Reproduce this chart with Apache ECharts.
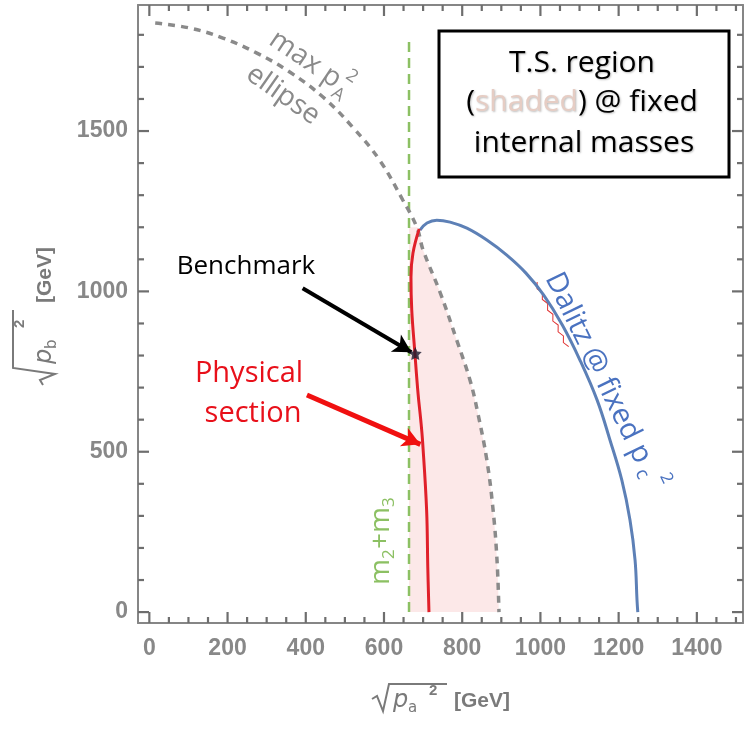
<!DOCTYPE html>
<html>
<head>
<meta charset="utf-8">
<title>T.S. region</title>
<script src="https://cdn.jsdelivr.net/npm/echarts@6/dist/echarts.min.js"></script>
<style>
  html, body { margin: 0; padding: 0; background: #fff; }
  #chart { width: 744px; height: 730px; }
</style>
</head>
<body>
<div id="chart"></div>
<script>
// tick labels
var xTicks = [0, 200, 400, 600, 800, 1000, 1200, 1400];
var yTicks = [0, 500, 1000, 1500];

// max p_A^2 ellipse (GeV)
var ellipseX = [15, 104, 188, 275, 359, 444, 520, 589, 648, 684, 700, 744, 786, 820, 840, 863, 879, 889, 894];
var ellipseY = [1837, 1821, 1790, 1743, 1684, 1606, 1512, 1409, 1285, 1200, 1129, 995, 848, 723, 620, 474, 318, 162, 0];

// physical section (red)
var physX = [690, 674, 669, 671, 679, 687, 694, 699, 709, 712, 715];
var physY = [1195, 1119, 1045, 942, 808, 683, 599, 527, 318, 140, 0];

// Dalitz @ fixed pc^2 (blue)
var dalitzX = [692, 710, 735, 769, 812, 863, 914, 963, 1008, 1056, 1101, 1145, 1178, 1208, 1229, 1242, 1247, 1249];
var dalitzY = [1191, 1213, 1222, 1216, 1197, 1160, 1113, 1057, 989, 895, 786, 661, 536, 412, 287, 162, 37, 0];

// m2+m3 threshold line
var m23 = 664;
var m23Top = 1784;
var shadeTop = 1200;

var benchmark = [680, 806];
var blackArrow = [[392, 1010], [670, 810]];
var redArrow = [[403, 677], [693, 523]];

function pairs(xs, ys) {
    var out = [];
    for (var i = 0; i < xs.length; i++) out.push([xs[i], ys[i]]);
    return out;
}

var xMinor = [], yMinor = [];
for (var v = 0; v <= 1500; v += 50) if (v % 200) xMinor.push(v);
for (var v = 0; v <= 1800; v += 100) if (v % 500) yMinor.push(v);

var XMIN = -29, XMAX = 1518, YMIN = -34, YMAX = 1893;
var grayAxis = '#868686';
var tickFont = { fontSize: 23, fontWeight: 'bold', color: '#888', fontFamily: 'Liberation Sans' };

function frameAxis(kind, pos, labels) {
    return {
        type: 'value', position: pos,
        min: kind == 'x' ? XMIN : YMIN, max: kind == 'x' ? XMAX : YMAX,
        axisLine: { show: true, onZero: false, lineStyle: { color: grayAxis, width: 2 } },
        axisTick: { show: false },
        axisLabel: labels ? Object.assign({ show: true, customValues: kind == 'x' ? xTicks : yTicks, margin: kind == 'x' ? 14 : 10,
            formatter: function (val) { return String(val); } }, tickFont) : { show: false },
        splitLine: { show: false }
    };
}

var sqrtName = function (sub, gap) {
    var c = '#7a7a7a';
    return [
        { type: 'polyline', shape: { points: [[0, 0], [5, -3], [11, 12], [17, -gap], [75, -gap]] },
          style: { stroke: c, lineWidth: 2, fill: null } },
        { type: 'text', x: 21, y: 2, style: { text: 'p', font: 'italic 24px "DejaVu Sans"', fill: c, textAlign: 'left', textVerticalAlign: 'middle' } },
        { type: 'text', x: 36, y: 9, style: { text: sub, font: '15px "DejaVu Sans"', fill: c, textAlign: 'left', textVerticalAlign: 'middle' } },
        { type: 'text', x: 57, y: -gap + 7, style: { text: '2', font: 'bold 15px "Liberation Sans"', fill: c, textAlign: 'left', textVerticalAlign: 'middle' } },
        { type: 'text', x: 82, y: 2, style: { text: '[GeV]', font: 'bold 21px "Liberation Sans"', fill: c, textAlign: 'left', textVerticalAlign: 'middle' } }
    ];
};

var shadeData = [[m23, shadeTop]].concat(pairs(ellipseX, ellipseY).filter(function (p) { return p[0] > m23 + 5; }));
var star = 'path://M0,-10 L2.9,-4 9.5,-3.1 4.7,1.5 5.9,8.1 0,5 -5.9,8.1 -4.7,1.5 -9.5,-3.1 -2.9,-4 Z';
var deg = Math.PI / 180;
var sans = '"Open Sans"';
var boxShadow = { textShadowColor: 'rgba(0,0,0,0.25)', textShadowBlur: 2, textShadowOffsetX: 1, textShadowOffsetY: 1 };

var chart = echarts.init(document.getElementById('chart'));
chart.setOption({
    animation: false,
    backgroundColor: '#fff',
    grid: { left: 138, top: 5, right: 1, bottom: 107, containLabel: false },
    xAxis: [frameAxis('x', 'bottom', true), frameAxis('x', 'top', false)],
    yAxis: [frameAxis('y', 'left', true), frameAxis('y', 'right', false)],
    series: [
        { name: 'shaded', type: 'line', data: shadeData, smooth: 0.3, symbol: 'none',
          lineStyle: { width: 0 }, areaStyle: { color: 'rgba(240,128,128,0.26)', origin: 0 }, z: 1, silent: true },
        { name: 'ellipse', type: 'line', data: pairs(ellipseX, ellipseY), smooth: 0.4, symbol: 'none',
          lineStyle: { color: '#8a8a8a', width: 3.5, type: [7, 6] }, z: 3 },
        { name: 'm2+m3', type: 'line', data: [[m23, 0], [m23, m23Top]], symbol: 'none',
          lineStyle: { color: '#8cc063', width: 2.5, type: [10, 6] }, z: 2 },
        { name: 'Dalitz', type: 'line', data: pairs(dalitzX, dalitzY), smooth: 0.4, symbol: 'none',
          lineStyle: { color: '#5d80b6', width: 3 }, z: 4 },
        { name: 'physical', type: 'line', data: pairs(physX, physY), smooth: 0.4, symbol: 'none',
          lineStyle: { color: '#e0202a', width: 3 }, z: 5 },
        { name: 'benchmark', type: 'scatter', data: [benchmark], symbol: star, symbolSize: 13,
          itemStyle: { color: '#1a1a2e' }, z: 6,
          markLine: {
              silent: true, symbol: ['none', 'arrow'], symbolSize: [15, 18], label: { show: false },
              data: [
                  [{ coord: blackArrow[0], lineStyle: { color: '#000', width: 4, type: 'solid' } }, { coord: blackArrow[1] }],
                  [{ coord: redArrow[0], lineStyle: { color: '#f01010', width: 5, type: 'solid' } }, { coord: redArrow[1] }]
              ]
          } }
    ]
});

// frame ticks (Mathematica style, pointing inward), placed through the grid's scales
var ticks = [];
function addTicks(side, vals, len) {
    vals.forEach(function (v) {
        var p, x2, y2;
        if (side == 'bottom') { p = chart.convertToPixel({ gridIndex: 0 }, [v, YMIN]); x2 = p[0]; y2 = p[1] - len; }
        else if (side == 'top') { p = chart.convertToPixel({ gridIndex: 0 }, [v, YMAX]); x2 = p[0]; y2 = p[1] + len; }
        else if (side == 'left') { p = chart.convertToPixel({ gridIndex: 0 }, [XMIN, v]); x2 = p[0] + len; y2 = p[1]; }
        else { p = chart.convertToPixel({ gridIndex: 0 }, [XMAX, v]); x2 = p[0] - len; y2 = p[1]; }
        ticks.push({ type: 'line', silent: true, z: 9, shape: { x1: p[0], y1: p[1], x2: x2, y2: y2 },
            style: { stroke: '#6e6e6e', lineWidth: 2.2 } });
    });
}
addTicks('bottom', xTicks, 11); addTicks('bottom', xMinor, 6);
addTicks('top', xTicks, 11); addTicks('top', xMinor, 6);
addTicks('left', yTicks, 11); addTicks('left', yMinor, 6);
addTicks('right', yTicks, 11); addTicks('right', yMinor, 6);

var labels = [
    // legend-like box
    { type: 'rect', shape: { x: 439, y: 31, width: 290, height: 146 }, style: { fill: '#fff', stroke: '#000', lineWidth: 3 }, z: 10 },
    { type: 'text', x: 582, y: 63, z: 11, style: Object.assign({ text: 'T.S. region', font: '30px ' + sans, fill: '#000', textAlign: 'center', textVerticalAlign: 'middle' }, boxShadow) },
    { type: 'text', x: 582, y: 102, z: 11, style: Object.assign({ text: '({s|shaded}) @ fixed', font: '30px ' + sans, fill: '#000', textAlign: 'center', textVerticalAlign: 'middle',
      rich: { s: { fill: '#e6cdc4', color: '#e6cdc4', fontSize: 30, fontFamily: 'Open Sans' } } }, boxShadow) },
    { type: 'text', x: 584, y: 143, z: 11, style: Object.assign({ text: 'internal masses', font: '30px ' + sans, fill: '#000', textAlign: 'center', textVerticalAlign: 'middle' }, boxShadow) },

    { type: 'text', x: 246, y: 267, style: { text: 'Benchmark', font: '26px ' + sans, fill: '#000', textAlign: 'center', textVerticalAlign: 'middle' } },
    { type: 'text', x: 249, y: 374, style: { text: 'Physical', font: '29px ' + sans, fill: '#e8101a', textAlign: 'center', textVerticalAlign: 'middle' } },
    { type: 'text', x: 253, y: 414, style: { text: 'section', font: '29px ' + sans, fill: '#e8101a', textAlign: 'center', textVerticalAlign: 'middle' } },

    // max p_A^2 ellipse labels
    { type: 'group', x: 272, y: 37, rotation: -34 * deg, children: [
        { type: 'text', x: 0, y: 0, style: { text: 'max p', font: '28px ' + sans, fill: '#8a8a8a', textAlign: 'left', textVerticalAlign: 'middle' } },
        { type: 'text', x: 81, y: 11, style: { text: 'A', font: '18px ' + sans, fill: '#8a8a8a', textAlign: 'left', textVerticalAlign: 'middle' } },
        { type: 'text', x: 83, y: -12, style: { text: '2', font: '18px ' + sans, fill: '#8a8a8a', textAlign: 'left', textVerticalAlign: 'middle' } }
    ] },
    { type: 'text', x: 283, y: 95, rotation: -35 * deg, style: { text: 'ellipse', font: '28px ' + sans, fill: '#8a8a8a', textAlign: 'center', textVerticalAlign: 'middle' } },

    // Dalitz label
    { type: 'group', x: 598, y: 368, rotation: -64 * deg, children: [
        { type: 'text', x: 0, y: 0, style: { text: 'Dalitz @ fixed p', font: '29px ' + sans, fill: '#4a72c0', textAlign: 'center', textVerticalAlign: 'middle' } },
        { type: 'text', x: 110, y: 7, style: { text: 'c', font: '19px ' + sans, fill: '#4a72c0', textAlign: 'left', textVerticalAlign: 'middle' } },
        { type: 'text', x: 124, y: -13, style: { text: '2', font: '17px ' + sans, fill: '#4a72c0', textAlign: 'left', textVerticalAlign: 'middle' } },
        { type: 'polyline', shape: { points: [[-104, 17], [-98, 20], [-92, 17], [-86, 20], [-80, 17], [-74, 20], [-68, 17], [-62, 20], [-56, 17], [-50, 20], [-44, 17], [-38, 20], [-32, 17]] },
          style: { stroke: '#e03030', lineWidth: 1, fill: null } }
    ] },

    // m2+m3 label
    { type: 'group', x: 381, y: 585, rotation: 90 * deg, children: [
        { type: 'text', x: 0, y: 0, style: { text: 'm', font: '28px ' + sans, fill: '#8cc063', textAlign: 'left', textVerticalAlign: 'middle' } },
        { type: 'text', x: 26, y: 8, style: { text: '2', font: '17px ' + sans, fill: '#8cc063', textAlign: 'left', textVerticalAlign: 'middle' } },
        { type: 'text', x: 36, y: 0, style: { text: '+m', font: '28px ' + sans, fill: '#8cc063', textAlign: 'left', textVerticalAlign: 'middle' } },
        { type: 'text', x: 78, y: 8, style: { text: '3', font: '17px ' + sans, fill: '#8cc063', textAlign: 'left', textVerticalAlign: 'middle' } }
    ] },

    // axis names
    { type: 'group', x: 372, y: 699, children: sqrtName('a', 15) },
    { type: 'group', x: 43, y: 385, rotation: 90 * deg, children: sqrtName('b', 30) }
];

chart.setOption({ graphic: labels.concat(ticks) });
</script>
</body>
</html>
